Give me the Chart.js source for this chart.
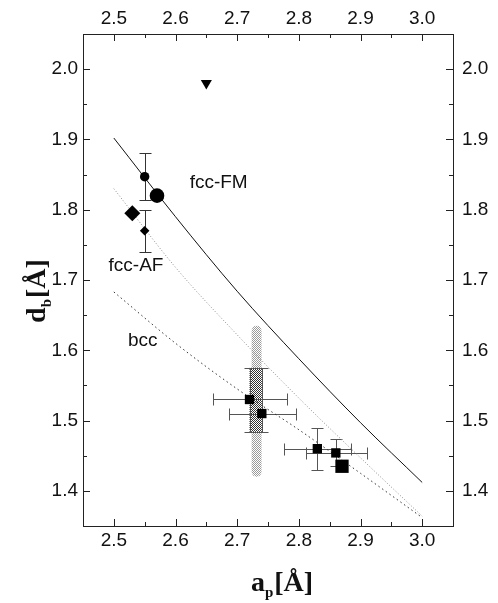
<!DOCTYPE html>
<html>
<head>
<meta charset="utf-8">
<script src="https://cdn.jsdelivr.net/npm/chart.js@4.4.0/dist/chart.umd.min.js"></script>
<style>
  html, body { margin: 0; padding: 0; background: #fff; }
  #marco { width: 498px; height: 603px; }
</style>
</head>
<body>
<div id="marco"><canvas id="grafico"></canvas></div>
<script>
// marcas de los ejes
const ejeX = [2.5, 2.6, 2.7, 2.8, 2.9, 3.0];
const ejeY = [1.4, 1.5, 1.6, 1.7, 1.8, 1.9, 2.0];

// curvas teoricas d_b(a_p)
const curvaX = [2.5, 2.6, 2.7, 2.8, 2.9, 3.0];
const fccFM = [1.902, 1.790, 1.684, 1.588, 1.497, 1.412];
const fccAF = [1.830, 1.718, 1.622, 1.532, 1.447, 1.364];
const bcc   = [1.683, 1.610, 1.545, 1.487, 1.425, 1.362];

// experimentales con barras de error
const circX = [2.55], circY = [1.847], circYmin = [1.814], circYmax = [1.880];
const diamX = [2.55], diamY = [1.770], diamYmin = [1.740], diamYmax = [1.799];
const cuadX    = [2.72, 2.74, 2.83, 2.86];
const cuadY    = [1.530, 1.510, 1.460, 1.454];
const cuadXmin = [2.661, 2.687, 2.776, 2.811];
const cuadXmax = [2.781, 2.795, 2.884, 2.910];
const cuadYmin = [1.484, 1.484, 1.429, 1.435];
const cuadYmax = [1.575, 1.575, 1.489, 1.474];

// calculados (simbolos grandes)
const calcCircX = [2.57], calcCircY = [1.820];
const calcDiamX = [2.53], calcDiamY = [1.795];
const calcCuadX = [2.87], calcCuadY = [1.435];
const trianX = [2.65], trianY = [1.980];

// banda punteada alrededor de a_p = 2.73
const bandaX = [2.7235, 2.7395];
const bandaY = [1.420, 1.635];
const bandaOscY = [1.484, 1.575];

function puntos(xs, ys, extra) {
    return xs.map((x, i) => Object.assign({ x: x, y: ys[i] }, extra ? extra(i) : {}));
}

function curva(ys) {
    return curvaX.map((x, i) => ({ x: x, y: ys[i] }));
}

function trama(ctx, color, densa) { // patron de puntos para la banda
    const c = document.createElement('canvas');
    c.width = 2; c.height = 2;
    const g = c.getContext('2d');
    g.fillStyle = color;
    g.fillRect(0, 0, 1, 1);
    if (densa) g.fillRect(1, 1, 1, 1);
    return ctx.createPattern(c, 'repeat');
}

const banda = {
    id: 'banda',
    beforeDatasetsDraw(chart) {
        const ctx = chart.ctx, sx = chart.scales.x, sy = chart.scales.y;
        const x1 = sx.getPixelForValue(bandaX[0]), x2 = sx.getPixelForValue(bandaX[1]);
        const y1 = sy.getPixelForValue(bandaY[1]), y2 = sy.getPixelForValue(bandaY[0]);
        ctx.save();
        ctx.fillStyle = trama(ctx, '#9a9a9a', true);
        ctx.beginPath();
        ctx.roundRect(x1, y1, x2 - x1, y2 - y1, (x2 - x1) / 2);
        ctx.fill();
        const yo1 = sy.getPixelForValue(bandaOscY[1]), yo2 = sy.getPixelForValue(bandaOscY[0]);
        ctx.fillStyle = trama(ctx, '#333', true);
        ctx.fillRect(sx.getPixelForValue(cuadX[0]), yo1, sx.getPixelForValue(cuadX[1]) - sx.getPixelForValue(cuadX[0]), yo2 - yo1);
        ctx.restore();
    }
};

const barrasError = {
    id: 'barrasError',
    beforeDatasetsDraw(chart) {
        const ctx = chart.ctx, sx = chart.scales.x, sy = chart.scales.y;
        const linea = (a, b, c, d) => { ctx.beginPath(); ctx.moveTo(a, b); ctx.lineTo(c, d); ctx.stroke(); };
        chart.data.datasets.forEach(ds => {
            if (!ds.colorError) return;
            ctx.save();
            ctx.strokeStyle = ds.colorError;
            ctx.lineWidth = 1;
            ds.data.forEach(p => {
                const px = Math.round(sx.getPixelForValue(p.x)) + 0.5;
                const py = Math.round(sy.getPixelForValue(p.y)) + 0.5;
                if (p.yMin !== undefined) {
                    const a = Math.round(sy.getPixelForValue(p.yMin)) + 0.5, b = Math.round(sy.getPixelForValue(p.yMax)) + 0.5;
                    linea(px, a, px, b);
                    linea(px - 6, a, px + 6, a);
                    linea(px - 6, b, px + 6, b);
                }
                if (p.xMin !== undefined) {
                    const a = Math.round(sx.getPixelForValue(p.xMin)) + 0.5, b = Math.round(sx.getPixelForValue(p.xMax)) + 0.5;
                    linea(a, py, b, py);
                    linea(a, py - 6, a, py + 6);
                    linea(b, py - 6, b, py + 6);
                }
            });
            ctx.restore();
        });
    }
};

const marcasDentro = { // ticks hacia adentro en los cuatro lados
    id: 'marcasDentro',
    afterDraw(chart) {
        const ctx = chart.ctx, a = chart.chartArea, sx = chart.scales.x, sy = chart.scales.y;
        const menores = arr => arr.slice(1).map((v, i) => (v + arr[i]) / 2);
        ctx.save();
        ctx.strokeStyle = '#222';
        ctx.lineWidth = 1;
        ctx.beginPath();
        [[ejeX, 7], [menores(ejeX), 4]].forEach(([vals, l]) => vals.forEach(v => {
            const x = Math.round(sx.getPixelForValue(v)) + 0.5;
            ctx.moveTo(x, a.bottom); ctx.lineTo(x, a.bottom - l);
            ctx.moveTo(x, a.top); ctx.lineTo(x, a.top + l);
        }));
        [[ejeY, 7], [menores(ejeY), 4]].forEach(([vals, l]) => vals.forEach(v => {
            const y = Math.round(sy.getPixelForValue(v)) + 0.5;
            ctx.moveTo(a.left, y); ctx.lineTo(a.left + l, y);
            ctx.moveTo(a.right, y); ctx.lineTo(a.right - l, y);
        }));
        ctx.stroke();
        ctx.restore();
    }
};

const etiquetas = {
    id: 'etiquetas',
    afterDatasetsDraw(chart) {
        const ctx = chart.ctx, sx = chart.scales.x, sy = chart.scales.y;
        ctx.save();
        ctx.fillStyle = '#111';
        ctx.font = '19px "Liberation Sans", Arial, sans-serif';
        ctx.textAlign = 'center';
        ctx.textBaseline = 'middle';
        ctx.fillText('fcc-FM', sx.getPixelForValue(2.67), sy.getPixelForValue(1.838));
        ctx.fillText('fcc-AF', sx.getPixelForValue(2.536), sy.getPixelForValue(1.720));
        ctx.fillText('bcc', sx.getPixelForValue(2.547), sy.getPixelForValue(1.613));
        ctx.restore();
    }
};

function tituloEje(ctx, base, sub, resto, cx, y) { // letra con subindice y unidades
    const grande = 'bold 28px "Liberation Serif", "Times New Roman", serif';
    const chico = 'bold 15px "Liberation Serif", "Times New Roman", serif';
    ctx.font = grande;
    const w1 = ctx.measureText(base).width, w3 = ctx.measureText(resto).width;
    ctx.font = chico;
    const w2 = ctx.measureText(sub).width + 1;
    let x = cx - (w1 + w2 + w3) / 2;
    ctx.font = grande; ctx.fillText(base, x, y); x += w1;
    ctx.font = chico; ctx.fillText(sub, x, y + 6); x += w2;
    ctx.font = grande; ctx.fillText(resto, x, y);
}

const titulos = {
    id: 'titulos',
    afterDraw(chart) {
        const ctx = chart.ctx, a = chart.chartArea;
        ctx.save();
        ctx.fillStyle = '#111';
        ctx.textAlign = 'left';
        ctx.textBaseline = 'alphabetic';
        tituloEje(ctx, 'a', 'p', '[Å]', (a.left + a.right) / 2 + 14, a.bottom + 65);
        ctx.translate(a.left - 38, (a.top + a.bottom) / 2 + 11);
        ctx.rotate(-Math.PI / 2);
        tituloEje(ctx, 'd', 'b', '[Å]', 0, 0);
        ctx.restore();
    }
};

function escalaX(pos) {
    return {
        type: 'linear', position: pos, min: 2.45, max: 3.05,
        grid: { display: false, drawTicks: false },
        border: { display: true, color: '#222', width: 1 },
        ticks: { color: '#111', font: { size: 19 }, padding: pos === 'top' ? 4 : 3, maxRotation: 0, callback: v => v.toFixed(1) },
        afterBuildTicks: s => { s.ticks = ejeX.map(v => ({ value: v })); },
        afterFit: s => { s.height = pos === 'top' ? 34 : 77; }
    };
}

function escalaY(pos) {
    return {
        type: 'linear', position: pos, min: 1.35, max: 2.05,
        grid: { display: false, drawTicks: false },
        border: { display: true, color: '#222', width: 1 },
        ticks: { color: '#111', font: { size: 19 }, padding: pos === 'left' ? 5 : 9, callback: v => v.toFixed(1) },
        afterBuildTicks: s => { s.ticks = ejeY.map(v => ({ value: v })); },
        afterFit: s => { s.width = pos === 'left' ? 83 : 45; }
    };
}

Chart.defaults.font.family = '"Liberation Sans", Arial, sans-serif';

const ctx = document.getElementById('grafico').getContext('2d');
const chart = new Chart(ctx, {
    type: 'scatter',
    data: {
        datasets: [{
            label: 'triangulo',
            data: puntos(trianX, trianY),
            pointStyle: 'triangle', rotation: 180, pointRadius: 6.4,
            backgroundColor: '#000', borderColor: '#000', borderWidth: 0
        }, {
            label: 'circulo calc',
            data: puntos(calcCircX, calcCircY),
            pointStyle: 'circle', pointRadius: 7.3,
            backgroundColor: '#000', borderColor: '#000', borderWidth: 0
        }, {
            label: 'rombo calc',
            data: puntos(calcDiamX, calcDiamY),
            pointStyle: 'rectRot', pointRadius: 8,
            backgroundColor: '#000', borderColor: '#000', borderWidth: 0
        }, {
            label: 'cuadrado calc',
            data: puntos(calcCuadX, calcCuadY),
            pointStyle: 'rect', pointRadius: 9.4,
            backgroundColor: '#000', borderColor: '#000', borderWidth: 0
        }, {
            label: 'circulo exp',
            data: puntos(circX, circY, i => ({ yMin: circYmin[i], yMax: circYmax[i] })),
            colorError: '#333',
            pointStyle: 'circle', pointRadius: 4.7,
            backgroundColor: '#000', borderColor: '#000', borderWidth: 0
        }, {
            label: 'rombo exp',
            data: puntos(diamX, diamY, i => ({ yMin: diamYmin[i], yMax: diamYmax[i] })),
            colorError: '#333',
            pointStyle: 'rectRot', pointRadius: 4.8,
            backgroundColor: '#000', borderColor: '#000', borderWidth: 0
        }, {
            label: 'cuadrados exp',
            data: puntos(cuadX, cuadY, i => ({ xMin: cuadXmin[i], xMax: cuadXmax[i], yMin: cuadYmin[i], yMax: cuadYmax[i] })),
            colorError: '#555',
            pointStyle: 'rect', pointRadius: 6.6,
            backgroundColor: '#000', borderColor: '#000', borderWidth: 0
        }, {
            label: 'fcc-FM',
            data: curva(fccFM),
            showLine: true, pointRadius: 0, borderColor: '#111', borderWidth: 1, cubicInterpolationMode: 'monotone'
        }, {
            label: 'fcc-AF',
            data: curva(fccAF),
            showLine: true, pointRadius: 0, borderColor: '#8c8c8c', borderWidth: 1, borderDash: [1, 2], cubicInterpolationMode: 'monotone'
        }, {
            label: 'bcc',
            data: curva(bcc),
            showLine: true, pointRadius: 0, borderColor: '#333', borderWidth: 1, borderDash: [1.5, 3], cubicInterpolationMode: 'monotone'
        }]
    },
    options: {
        responsive: true,
        maintainAspectRatio: false,
        animation: false,
        layout: { padding: 0 },
        plugins: { legend: { display: false }, tooltip: { enabled: false } },
        scales: {
            x: escalaX('bottom'),
            x2: escalaX('top'),
            y: escalaY('left'),
            y2: escalaY('right')
        }
    },
    plugins: [banda, barrasError, etiquetas, marcasDentro, titulos]
});
</script>
</body>
</html>
